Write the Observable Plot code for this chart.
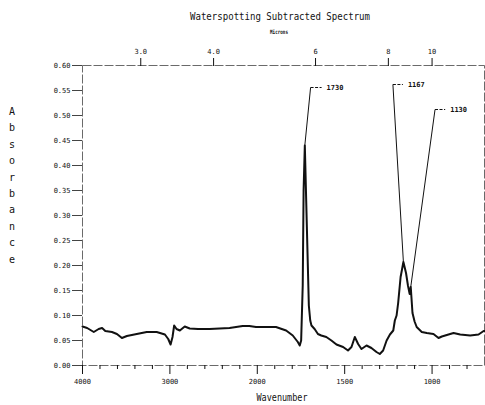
<!DOCTYPE html>
<html><head><meta charset="utf-8">
<script src="https://cdn.jsdelivr.net/npm/d3@7"></script>
<script src="https://cdn.jsdelivr.net/npm/@observablehq/plot@0.6"></script>
<style>body{margin:0;background:#fff} svg{display:block}</style>
</head><body><div id="chart"></div>
<script>
const wavenumber = [4000,3947,3871,3815,3776,3739,3663,3606,3549,3492,3379,3265,3151,3057,3019,2992,2970,2951,2924,2886,2830,2773,2678,2545,2318,2167,2091,2015,1950,1893,1835,1797,1768,1757,1749,1740,1735,1728,1718,1705,1697,1690,1672,1653,1634,1605,1576,1547,1509,1481,1461,1442,1423,1404,1375,1347,1318,1299,1280,1260,1241,1222,1213,1203,1194,1180,1164,1149,1138,1128,1122,1112,1100,1088,1059,1030,992,963,944,906,877,839,782,734,705,700];
const absorbance = [0.078,0.075,0.067,0.073,0.075,0.069,0.067,0.063,0.055,0.059,0.063,0.067,0.067,0.062,0.053,0.042,0.057,0.080,0.073,0.070,0.078,0.074,0.073,0.073,0.075,0.079,0.079,0.077,0.077,0.077,0.070,0.060,0.047,0.040,0.050,0.160,0.350,0.440,0.300,0.120,0.090,0.080,0.073,0.063,0.060,0.057,0.050,0.042,0.037,0.030,0.037,0.057,0.043,0.033,0.040,0.035,0.027,0.023,0.030,0.050,0.062,0.070,0.090,0.100,0.125,0.177,0.207,0.185,0.160,0.143,0.157,0.105,0.088,0.077,0.067,0.065,0.063,0.055,0.058,0.062,0.065,0.062,0.060,0.062,0.069,0.069];

const yTicks = [0,0.05,0.1,0.15,0.2,0.25,0.3,0.35,0.4,0.45,0.5,0.55,0.6];
const xMajorTicks = [4000,3000,2000,1500,1000];
const xMinorTicks = [3800,3600,3400,3200,2800,2600,2400,2200,1900,1800,1700,1600,1400,1300,1200,1100,900,800];
const micronTicks = [3.0,4.0,6,8,10];
const micronLabels = ["3.0","4.0","6","8","10"];

const peakLabels = ["1730","1167","1130"];
const peakWn = [1728,1164,1122];
const peakAbs = [0.44,0.207,0.157];
const labelWn = [1695,1224,983];
const labelTailWn = [1632,1167,925];
const labelAbs = [0.556,0.562,0.512];

const spectrum = wavenumber.map((w,i)=>({w, a: absorbance[i]}));
const peaks = peakLabels.map((t,i)=>({t, pw: peakWn[i], pa: peakAbs[i], lw: labelWn[i], lt: labelTailWn[i], la: labelAbs[i]}));

// IR chart convention: scale doubles below 2000 cm-1
const wnTransform = w => w >= 2000 ? 4000 - w : 2000 + (2000 - w) * 2;
const wnInverse = t => t <= 2000 ? 4000 - t : 2000 - (t - 2000) / 2;

const mono = "DejaVu Sans Mono, Liberation Mono, monospace";
const chart = Plot.plot({
  width: 485, height: 405,
  marginLeft: 82, marginRight: 1, marginTop: 65, marginBottom: 40,
  style: {fontFamily: mono, fontSize: "7px", color: "#111", background: "#fff"},
  x: {transform: wnTransform, domain: [wnTransform(4000), wnTransform(700)], label: null},
  y: {domain: [0, 0.6], label: null},
  marks: [
    Plot.frame({stroke: "#444", strokeWidth: 0.8, strokeDasharray: "9,2"}),
    Plot.axisY({ticks: yTicks, tickSize: 10, tickPadding: 2, tickFormat: d3.format(".2f"), fontSize: 7, stroke: "#444", fill: "#111"}),
    Plot.axisX({ticks: xMajorTicks.map(wnTransform), tickSize: 9, tickPadding: 5, fontSize: 7, fill: "#111",
      tickFormat: t => String(Math.round(wnInverse(t)))}),
    Plot.axisX({ticks: xMinorTicks.map(wnTransform), tickSize: 4, text: null}),
    Plot.axisX({anchor: "top", ticks: micronTicks.map(m => wnTransform(10000/m)), tickSize: 8, tickPadding: 4, fontSize: 7, fill: "#111",
      tickFormat: t => micronLabels[micronTicks.findIndex(m => Math.abs(wnTransform(10000/m) - t) < 1e-6)]}),
    Plot.line(spectrum, {x: "w", y: "a", stroke: "#111", strokeWidth: 2, strokeLinejoin: "round"}),
    Plot.link(peaks, {x1: "pw", y1: "pa", x2: "lw", y2: "la", stroke: "#111", strokeWidth: 1}),
    Plot.link(peaks, {x1: "lw", y1: "la", x2: "lt", y2: "la", stroke: "#111", strokeWidth: 1, strokeDasharray: "3,1.5"}),
    Plot.text(peaks, {x: "lt", y: "la", text: "t", textAnchor: "start", dx: 5, fontSize: 7, fontWeight: "bold", fill: "#111"})
  ]
});
document.getElementById("chart").append(chart);

const svg = d3.select(chart);
function label(txt, x, y, size, len, weight) {
  svg.append("text").attr("x", x).attr("y", y).attr("text-anchor", "middle")
    .attr("font-family", mono).attr("font-size", size).attr("font-weight", weight || "normal")
    .attr("fill", "#111").attr("textLength", len).attr("lengthAdjust", "spacingAndGlyphs").text(txt);
}
label("Waterspotting Subtracted Spectrum", 280, 20, 11, 180);
label("Microns", 279, 34, 6, 18, "bold");
label("Wavenumber", 282, 401, 10, 51);
"Absorbance".split("").forEach((c, i) => {
  svg.append("text").attr("x", 12).attr("y", 115 + i * 16.4).attr("text-anchor", "middle")
    .attr("font-family", mono).attr("font-size", 10).attr("fill", "#111").text(c);
});
</script></body></html>
